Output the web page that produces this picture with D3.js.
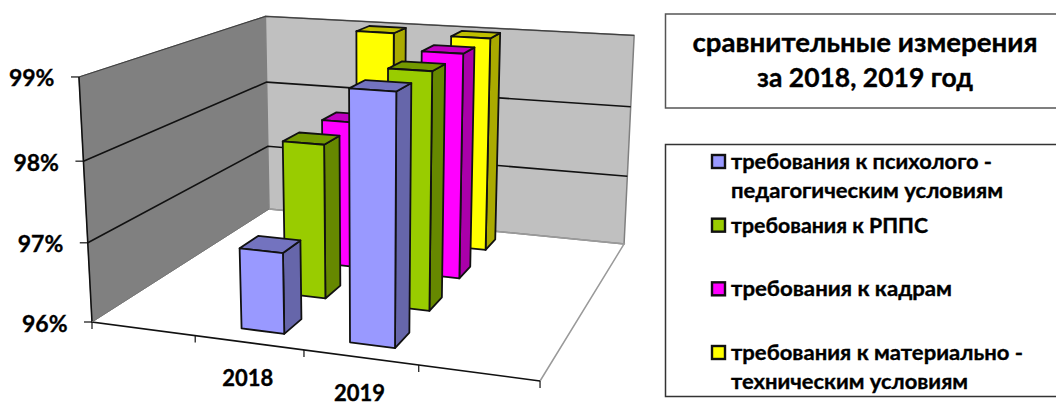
<!DOCTYPE html>
<html>
<head>
<meta charset="utf-8">
<script src="https://cdn.jsdelivr.net/npm/d3@7"></script>
<style>
  html, body { margin: 0; padding: 0; background: #fff; overflow: hidden; }
  svg { display: block; }
  text { font-family: "Lato", "Open Sans", sans-serif; font-weight: 700; fill: #000; stroke: #000; stroke-width: 0.35px; }
</style>
</head>
<body>
<div id="chart"></div>
<script>
// chart data
var categories = ["", "2018", "2019", " "];
var seriesNames = ["психолог", "РППС", "кадры", "материально"];
var values2018 = [97, 98, 98, 99];
var values2019 = [99, 99, 99, 99];
var valueTicks = [96, 97, 98, 99];
var titleLines = ["сравнительные измерения", "за 2018, 2019 год"];
var legendLabels = [
  ["требования к психолого -", "педагогическим условиям"],
  ["требования к РППС"],
  ["требования к кадрам"],
  ["требования к материально -", "техническим условиям"]
];
var frontColors = ["#9999ff", "#99cc00", "#ff00ff", "#ffff00"];
var sideColors = ["#6666aa", "#668800", "#aa00aa", "#aaaa00"];
var topColors = ["#7373bf", "#739900", "#bf00bf", "#bfbf00"];

// text widths in the original font
var titleWidths = [345, 216];
var legendWidths = [[261, 272], [197], [221], [292, 237]];

// projection of the 3d box to the screen, u along categories, v into depth, h up
var a = -0.1021, b = 0.2861, c = -0.045;
var origin = [92, 322], uVec = [392.9, 20.1], vVec = [254, -53.2], hVec = [-16.6, -248.5];

function project(u, v, h) {
  var w = 1 + a * u + b * v + c * h;
  return [
    (origin[0] + uVec[0] * u + vVec[0] * v + hVec[0] * h) / w,
    (origin[1] + uVec[1] * u + vVec[1] * v + hVec[1] * h) / w
  ];
}

var width = 1056, height = 403;

// scales
var x = d3.scaleBand().domain(categories).range([0, 1]).paddingInner(0.6).paddingOuter(0.3);
var z = d3.scaleBand().domain(d3.range(seriesNames.length)).range([0, 1]).paddingInner(0.6).paddingOuter(0.3);
var y = d3.scaleLinear().domain([96, 99]).range([0, 1]);
var tickU = d3.scaleLinear().domain([0, categories.length]).range([0, 1]);

var svg = d3.select("#chart").append("svg")
    .attr("width", width)
    .attr("height", height);

function poly(points) {
  return points.map(function(p) { return p.join(","); }).join(" ");
}

// walls
svg.append("polygon")
    .attr("points", poly([project(0, 0, 0), project(0, 1, 0), project(0, 1, 1), project(0, 0, 1)]))
    .style("fill", "#808080")
    .style("stroke", "#808080");
svg.append("polygon")
    .attr("points", poly([project(0, 1, 0), project(1, 1, 0), project(1, 1, 1), project(0, 1, 1)]))
    .style("fill", "#c0c0c0")
    .style("stroke", "#808080")
    .style("stroke-width", 1.5);
svg.append("polyline")
    .attr("points", poly([project(0, 1, 0), project(1, 1, 0), project(1, 0, 0)]))
    .style("fill", "none")
    .style("stroke", "#9a9a9a")
    .style("stroke-width", 1.5);

// gridlines
valueTicks.slice(1).forEach(function(t) {
  svg.append("polyline")
      .attr("points", poly([project(0, 0, y(t)), project(0, 1, y(t)), project(1, 1, y(t))]))
      .style("fill", "none")
      .style("stroke", t == 99 ? "#404040" : "#111")
      .style("stroke-width", t == 99 ? 1.2 : 1.6);
});

// axes
svg.append("polyline")
    .attr("points", poly([project(0, 0, 1), project(0, 0, 0), project(1, 0, 0)]))
    .style("fill", "none")
    .style("stroke", "#111")
    .style("stroke-width", 1.6);
svg.append("line")
    .attr("x1", project(0, 0, 0)[0]).attr("y1", project(0, 0, 0)[1])
    .attr("x2", project(0, 1, 0)[0]).attr("y2", project(0, 1, 0)[1])
    .style("stroke", "#777")
    .style("stroke-width", 1);

valueTicks.forEach(function(t) {
  var p = project(0, 0, y(t));
  svg.append("line")
      .attr("x1", p[0] - 8).attr("y1", p[1])
      .attr("x2", p[0]).attr("y2", p[1])
      .style("stroke", "#111")
      .style("stroke-width", 1.2);
  svg.append("text")
      .attr("x", p[0] - 24.5)
      .attr("y", p[1] + 9.5)
      .attr("text-anchor", "end")
      .style("font-size", "23px")
      .text(t + "%");
});

d3.range(categories.length + 1).forEach(function(i) {
  var p = project(tickU(i), 0, 0);
  svg.append("line")
      .attr("x1", p[0]).attr("y1", p[1])
      .attr("x2", p[0]).attr("y2", p[1] + 7)
      .style("stroke", "#111")
      .style("stroke-width", 1.2);
});

categories.forEach(function(cat) {
  if (cat.trim() == "") return;
  var p = project(x(cat) + x.bandwidth() / 2, 0, 0);
  svg.append("text")
      .attr("x", p[0] - 1)
      .attr("y", p[1] + 43.5)
      .attr("text-anchor", "middle")
      .style("font-size", "22px")
      .text(cat);
});

// bars, back row first so the front ones cover them
function drawBar(cat, s, value) {
  var u0 = x(cat), u1 = u0 + x.bandwidth();
  var v0 = z(s), v1 = v0 + z.bandwidth();
  var h = y(value);
  var g = svg.append("g")
      .style("stroke", "#111")
      .style("stroke-width", 1.8)
      .style("stroke-linejoin", "round");
  g.append("polygon")
      .attr("points", poly([project(u1, v0, 0), project(u1, v1, 0), project(u1, v1, h), project(u1, v0, h)]))
      .style("fill", sideColors[s]);
  g.append("polygon")
      .attr("points", poly([project(u0, v0, h), project(u1, v0, h), project(u1, v1, h), project(u0, v1, h)]))
      .style("fill", topColors[s]);
  g.append("polygon")
      .attr("points", poly([project(u0, v0, 0), project(u1, v0, 0), project(u1, v0, h), project(u0, v0, h)]))
      .style("fill", frontColors[s]);
}

d3.range(seriesNames.length).reverse().forEach(function(s) {
  drawBar("2018", s, values2018[s]);
  drawBar("2019", s, values2019[s]);
});

// title box, its right side runs off the picture
svg.append("rect")
    .attr("x", 665.5).attr("y", 14)
    .attr("width", 400).attr("height", 94)
    .style("fill", "#fff")
    .style("stroke", "#555")
    .style("stroke-width", 1.5);
titleLines.forEach(function(line, i) {
  svg.append("text")
      .attr("x", 865)
      .attr("y", 52 + i * 35)
      .attr("text-anchor", "middle")
      .attr("textLength", titleWidths[i])
      .attr("lengthAdjust", "spacingAndGlyphs")
      .style("font-size", "27px")
      .text(line);
});

// legend box
svg.append("rect")
    .attr("x", 665.5).attr("y", 144.5)
    .attr("width", 400).attr("height", 252)
    .style("fill", "#fff")
    .style("stroke", "#333")
    .style("stroke-width", 1.5);

var legendY = d3.scaleLinear().domain([0, 3]).range([155, 346]);
legendLabels.forEach(function(lines, i) {
  svg.append("rect")
      .attr("x", 712).attr("y", legendY(i))
      .attr("width", 13).attr("height", 13)
      .style("fill", frontColors[i])
      .style("stroke", "#111")
      .style("stroke-width", 2.4);
  lines.forEach(function(line, j) {
    svg.append("text")
        .attr("x", 731)
        .attr("y", legendY(i) + 14 + j * 29)
        .attr("textLength", legendWidths[i][j])
        .attr("lengthAdjust", "spacingAndGlyphs")
        .style("font-size", "21px")
        .text(line);
  });
});
</script>
</body>
</html>
